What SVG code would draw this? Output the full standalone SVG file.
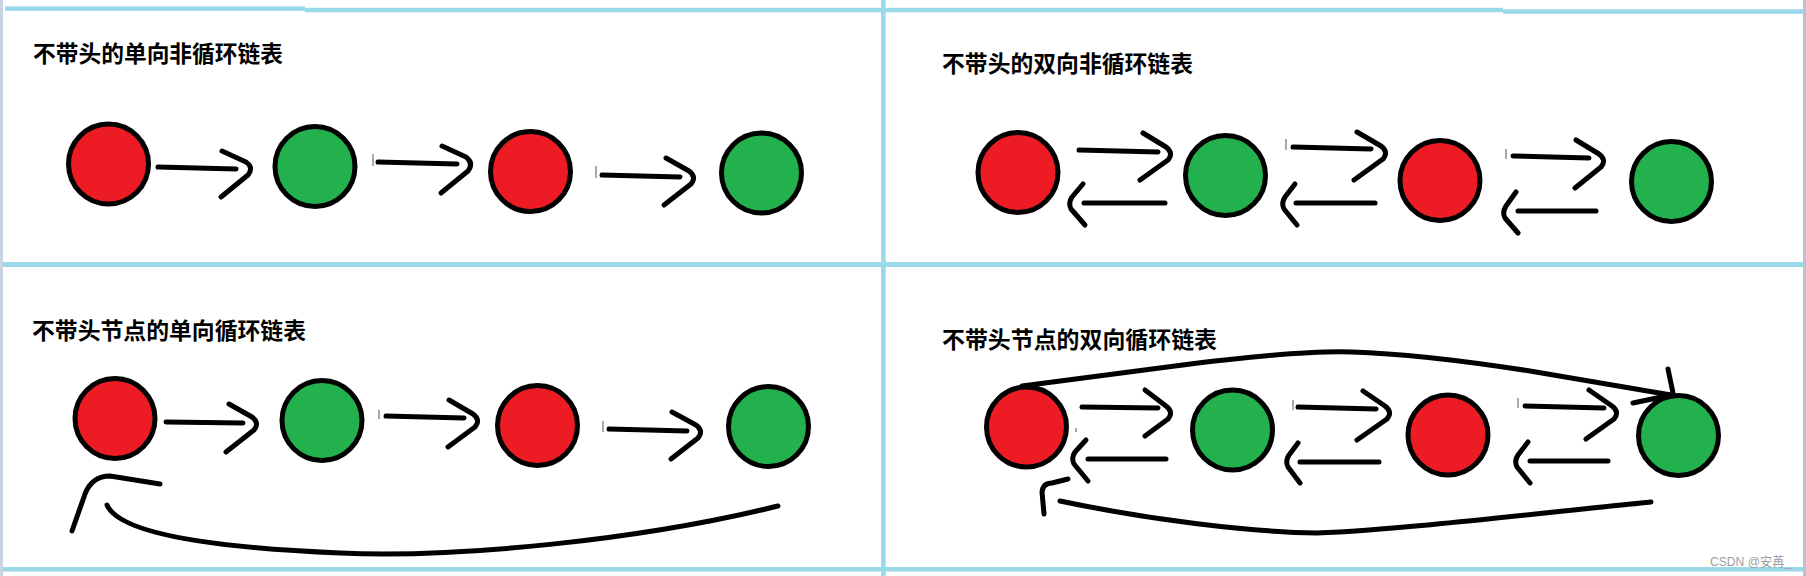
<svg xmlns="http://www.w3.org/2000/svg" width="1806" height="576" viewBox="0 0 1806 576">
<style>
.bg{fill:#ffffff}
.grid{fill:#99d9ea}
.title{font-family:"Noto Sans CJK SC","Noto Sans",sans-serif;font-weight:bold;font-size:23px;fill:#000}
.red{fill:#ed1c24;stroke:#000;stroke-width:5}
.green{fill:#22b14c;stroke:#000;stroke-width:5}
.ln{fill:none;stroke:#000;stroke-width:5;stroke-linecap:round;stroke-linejoin:round}
.tick{fill:none;stroke:#555;stroke-width:1}
.wm{font-family:"Liberation Sans","Noto Sans CJK SC",sans-serif;font-size:13px;fill:#a0a0a0}
</style>
<rect class="bg" x="0" y="0" width="1806" height="576"/>
<g id="frame">
<rect x="0" y="0" width="3" height="576" fill="#c8d3e3"/>
<rect x="1803" y="0" width="3" height="576" fill="#b7c3d5"/>
<rect class="grid" x="5" y="6.3" width="300" height="4.5"/>
<rect class="grid" x="305" y="7.8" width="1198" height="4.5"/>
<rect class="grid" x="1503" y="9.3" width="300" height="4.5"/>
<rect class="grid" x="3" y="262" width="1800" height="5"/>
<rect class="grid" x="3" y="567" width="1800" height="4.5"/>
<rect class="grid" x="881" y="0" width="4.7" height="576"/>
</g>
<g id="titles">
<text id="t1" class="title" x="33" y="62" textLength="250" lengthAdjust="spacingAndGlyphs">不带头的单向非循环链表</text>
<text id="t2" class="title" x="942" y="72" textLength="251" lengthAdjust="spacingAndGlyphs">不带头的双向非循环链表</text>
<text id="t3" class="title" x="32" y="338.5" textLength="274" lengthAdjust="spacingAndGlyphs">不带头节点的单向循环链表</text>
<text id="t4" class="title" x="942" y="347.5" textLength="275" lengthAdjust="spacingAndGlyphs">不带头节点的双向循环链表</text>
</g>
<g id="connectors">
<!-- panel 1 -->
<path class="ln" d="M158 167 L236 169 M222 151 L246 162 Q254 167 248 175 L221 197"/>
<path class="tick" d="M373 154 V166"/>
<path class="ln" d="M378 162 L457 164 M442 146 L466 157 Q474 163 468 171 L441 193"/>
<path class="tick" d="M596 166 V178"/>
<path class="ln" d="M602 175 L680 177 M666 158 L689 171 Q697 177 691 184 L664 205"/>
<!-- panel 2 forward -->
<path class="ln" d="M1079 150 L1158 152 M1143 133 L1166 147 Q1174 153 1168 160 L1140 180"/>
<path class="tick" d="M1286 139 V150"/>
<path class="ln" d="M1293 147 L1371 149 M1357 132 L1381 146 Q1389 152 1383 159 L1354 180"/>
<path class="tick" d="M1506 149 V159"/>
<path class="ln" d="M1513 156 L1589 158 M1576 140 L1599 154 Q1607 160 1601 167 L1575 188"/>
<!-- panel 2 back -->
<path class="ln" d="M1084 203 L1165 203 M1083 184 L1072 197 Q1068 203 1071 209 L1085 225"/>
<path class="ln" d="M1296 203 L1375 203 M1295 184 L1285 197 Q1281 203 1284 209 L1297 225"/>
<path class="ln" d="M1518 211 L1596 211 M1516 192 L1506 206 Q1502 212 1505 218 L1518 233"/>
<!-- panel 3 -->
<path class="ln" d="M166 422 L243 423 M229 404 L252 417 Q260 423 254 430 L226 452"/>
<path class="tick" d="M379 410 V419"/>
<path class="ln" d="M386 416 L464 418 M449 400 L473 414 Q481 420 475 427 L448 447"/>
<path class="tick" d="M603 421 V432"/>
<path class="ln" d="M609 429 L687 431 M672 412 L696 425 Q704 431 698 438 L671 459"/>
<path class="ln" d="M778 506 C640 540 460 558 340 553 C220 548 120 535 107 505"/>
<path class="ln" d="M72 531 L85 494 Q92 476 110 476 L160 484"/>
<!-- panel 4 forward -->
<path class="ln" d="M1082 407 L1158 408 M1145 390 L1166 406 Q1174 412 1168 419 L1145 436"/>
<path class="tick" d="M1293 400 V410"/>
<path class="ln" d="M1298 407 L1376 409 M1363 391 L1385 406 Q1393 412 1387 419 L1357 440"/>
<path class="tick" d="M1518 398 V408"/>
<path class="ln" d="M1525 406 L1604 408 M1589 390 L1612 406 Q1620 412 1614 419 L1586 439"/>
<!-- panel 4 back -->
<path class="tick" d="M1076 428 V432"/>
<path class="ln" d="M1088 459 L1166 459 M1086 440 L1075 452 Q1071 458 1074 464 L1088 481"/>
<path class="ln" d="M1300 462 L1379 462 M1298 443 L1289 455 Q1285 461 1288 467 L1300 483"/>
<path class="ln" d="M1530 461 L1608 461 M1528 442 L1518 455 Q1514 461 1517 467 L1530 483"/>
<!-- panel 4 circular links -->
<path class="ln" d="M1022 386 L1175 366 Q1300 350 1352 352 Q1420 354 1530 371 L1671 395"/>
<path class="ln" d="M1668 369 L1673 393 M1633 403 L1671 395"/>
<path class="ln" d="M1651 502 C1550 512 1400 530 1317 533 C1250 532 1150 520 1060 501"/>
<path class="ln" d="M1044 514 L1042 492 Q1043 483 1052 483 L1068 479"/>
</g>
<g id="p1n1"><circle class="red" cx="108.5" cy="164" r="40"/></g>
<g id="p1n2"><circle class="green" cx="315" cy="166.5" r="40"/></g>
<g id="p1n3"><circle class="red" cx="530.5" cy="171.5" r="40"/></g>
<g id="p1n4"><circle class="green" cx="761.5" cy="173" r="40"/></g>
<g id="p2n1"><circle class="red" cx="1018" cy="172.5" r="40"/></g>
<g id="p2n2"><circle class="green" cx="1225.5" cy="175.5" r="40"/></g>
<g id="p2n3"><circle class="red" cx="1440" cy="180.5" r="40"/></g>
<g id="p2n4"><circle class="green" cx="1671.5" cy="181.5" r="40"/></g>
<g id="p3n1"><circle class="red" cx="115" cy="418.5" r="40"/></g>
<g id="p3n2"><circle class="green" cx="322" cy="420.5" r="40"/></g>
<g id="p3n3"><circle class="red" cx="537.5" cy="425.5" r="40"/></g>
<g id="p3n4"><circle class="green" cx="768.5" cy="426.5" r="40"/></g>
<g id="p4n1"><circle class="red" cx="1026.5" cy="427" r="40"/></g>
<g id="p4n2"><circle class="green" cx="1232.5" cy="430" r="40"/></g>
<g id="p4n3"><circle class="red" cx="1448" cy="435" r="40"/></g>
<g id="p4n4"><circle class="green" cx="1678.5" cy="435.5" r="40"/></g>
<text class="wm" x="1710" y="566" textLength="81" lengthAdjust="spacingAndGlyphs">CSDN @安苒_</text>
</svg>
